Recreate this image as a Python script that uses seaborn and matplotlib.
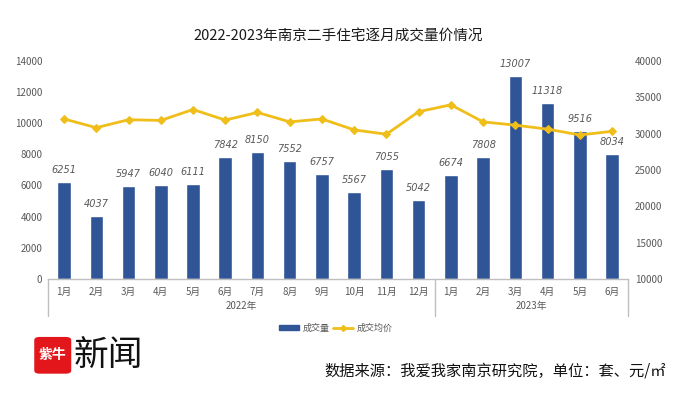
import matplotlib
matplotlib.use("Agg")
import matplotlib.pyplot as plt
import matplotlib.transforms as mtransforms
from matplotlib.patches import FancyBboxPatch, Patch
from matplotlib.lines import Line2D
import seaborn as sns
import pandas as pd
import numpy as np

# data
months = ['1月', '2月', '3月', '4月', '5月', '6月', '7月', '8月', '9月', '10月', '11月', '12月',
          '1月', '2月', '3月', '4月', '5月', '6月']
years = ['2022年'] * 12 + ['2023年'] * 6
volume = [6251, 4037, 5947, 6040, 6111, 7842, 8150, 7552, 6757, 5567, 7055, 5042,
          6674, 7808, 13007, 11318, 9516, 8034]
avg_price = [32000, 30800, 31900, 31800, 33300, 31850, 32900, 31600, 32000, 30500, 29900, 33000,
             33950, 31600, 31150, 30600, 29800, 30300]

bar_color = '#2F5597'
line_color = '#F0BE1A'
grey = '#595959'

sns.set_theme(style='white')
plt.rcParams['font.family'] = ['Noto Sans CJK SC', 'DejaVu Sans']
plt.rcParams['axes.unicode_minus'] = False

df = pd.DataFrame({'idx': range(len(volume)), 'month': months, 'year': years,
                   'volume': volume, 'price': avg_price})

fig = plt.figure(figsize=(6.85, 3.95), dpi=100)
ax = fig.add_axes([0.070, 0.294, 0.847, 0.552])

sns.barplot(data=df, x='idx', y='volume', color=bar_color, width=0.42,
            saturation=1, ax=ax, zorder=2)
ax.set_ylim(0, 14000)
ax.set_yticks(range(0, 14001, 2000))
ax.set_xlim(-0.5, len(volume) - 0.5)
ax.set_xticks(df['idx'])
ax.set_xticklabels(df['month'], fontsize=7, color=grey)
ax.tick_params(axis='y', labelsize=7, labelcolor=grey, length=0, pad=4)
ax.tick_params(axis='x', length=0, pad=6)
ax.set_xlabel('')
ax.set_ylabel('')
for s in ['top', 'right', 'left']:
    ax.spines[s].set_visible(False)
ax.spines['bottom'].set_color('#BFBFBF')
ax.spines['bottom'].set_linewidth(1)

# bar value labels
for i, v in enumerate(volume):
    ax.annotate(str(v), (i, v), xytext=(0, 5), textcoords='offset points',
                ha='center', va='bottom', fontsize=7, color=grey,
                fontstyle='italic', family='DejaVu Sans')

# price line on the right axis
ax2 = ax.twinx()
sns.lineplot(data=df, x='idx', y='price', color=line_color, linewidth=2.0,
             marker='D', markersize=4, markeredgecolor=line_color, ax=ax2, zorder=3)
ax2.set_ylim(10000, 40000)
ax2.set_yticks(range(10000, 40001, 5000))
ax2.tick_params(axis='y', labelsize=7, labelcolor=grey, length=0, pad=5)
ax2.set_ylabel('')
ax2.set_xlabel('')
for s in ['top', 'right', 'left', 'bottom']:
    ax2.spines[s].set_visible(False)
ax2.grid(False)
ax.grid(False)

# year group labels and separators under the axis
trans = mtransforms.blended_transform_factory(ax.transData, ax.transAxes)
bounds = [-0.5]
for i in range(1, len(years)):
    if years[i] != years[i - 1]:
        bounds.append(i - 0.5)
bounds.append(len(years) - 0.5)
for b in bounds:
    ax.add_line(Line2D([b, b], [0, -0.17], transform=trans, color='#BFBFBF',
                       linewidth=1, clip_on=False))
for a, b in zip(bounds[:-1], bounds[1:]):
    ax.text((a + b) / 2, -0.126, years[int(a + 0.5)], transform=trans,
            ha='center', va='center', fontsize=7, color=grey)

# legend
handles = [Patch(facecolor=bar_color, edgecolor=bar_color),
           Line2D([0], [0], color=line_color, linewidth=2, marker='D', markersize=3)]
fig.legend(handles, ['成交量', '成交均价'], loc='center', bbox_to_anchor=(0.49, 0.170),
           ncol=2, frameon=False, fontsize=6.5, handlelength=2.2, handleheight=0.5,
           columnspacing=0.4, handletextpad=0.4, labelcolor=grey)

# title
fig.text(0.494, 0.908, '2022-2023年南京二手住宅逐月成交量价情况', ha='center', va='center',
         fontsize=10.5, color='#1a1a1a')

# logo and source
logo = FancyBboxPatch((0.050, 0.054), 0.054, 0.093, boxstyle='round,pad=0,rounding_size=0.008',
                      transform=fig.transFigure, facecolor='#E3161B', edgecolor='none')
fig.patches.append(logo)
fig.text(0.077, 0.100, '紫牛', ha='center', va='center', fontsize=10, color='white',
         fontweight='bold')
fig.text(0.108, 0.100, '新闻', ha='left', va='center', fontsize=25, color='#111111')
fig.text(0.972, 0.062, '数据来源：我爱我家南京研究院，单位：套、元/㎡', ha='right', va='center',
         fontsize=11, color='#111111')

fig.savefig('out.png', dpi=100, facecolor='white')
